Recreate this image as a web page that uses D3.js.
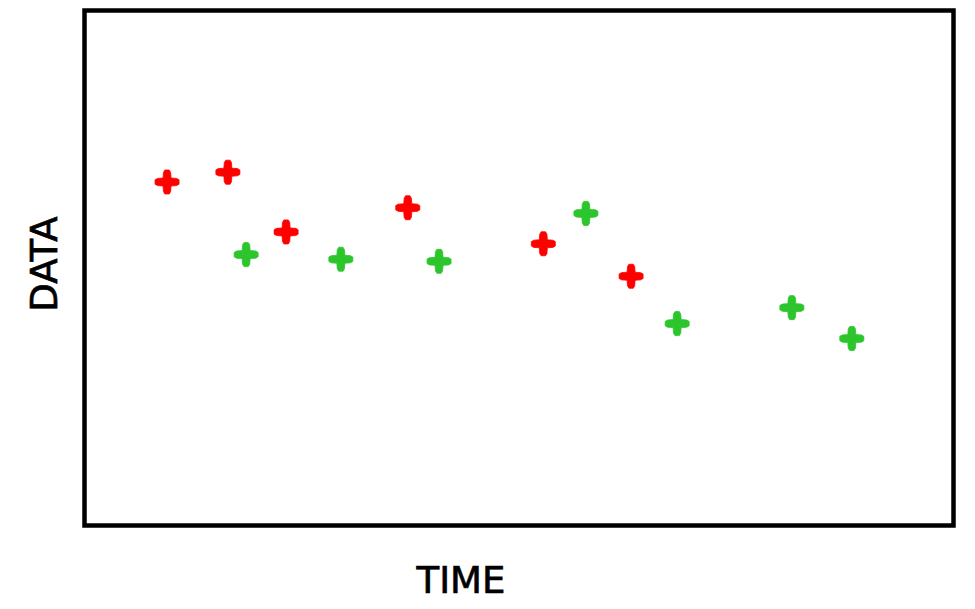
<!DOCTYPE html>
<html>
<head>
<meta charset="utf-8">
<script src="https://cdn.jsdelivr.net/npm/d3@7"></script>
<style>
  body { margin: 0; background: #fff; }
  text { font-family: "DejaVu Sans", sans-serif; }
</style>
</head>
<body>
<div id="chart"></div>
<script>
// values (arbitrary 0-100 units, no ticks shown)
const redTime = [9.5, 16.5, 23.2, 37.2, 52.8, 62.9];
const redData = [66.7, 68.6, 57.0, 61.7, 54.7, 48.4];
const greenTime = [18.6, 29.5, 40.8, 57.7, 68.2, 81.4, 88.3];
const greenData = [52.6, 51.7, 51.3, 60.6, 39.2, 42.3, 36.3];

const width = 975, height = 609;
const margin = {top: 10.5, right: 21.5, bottom: 83.5, left: 84.5};

let svg = d3.select("#chart")
    .append("svg")
    .attr("width", width)
    .attr("height", height);

let x = d3.scaleLinear()
    .domain([0, 100])
    .range([margin.left, width - margin.right]);

let y = d3.scaleLinear()
    .domain([0, 100])
    .range([height - margin.bottom, margin.top]);

// plot frame
svg.append("rect")
    .attr("x", x(0))
    .attr("y", y(100))
    .attr("width", x(100) - x(0))
    .attr("height", y(0) - y(100))
    .attr("fill", "none")
    .attr("stroke", "#000")
    .attr("stroke-width", 4.5);

// plus marker with slightly tapered arm tips
const taperedCross = {
    draw(context, size) {
        let r = Math.sqrt(size) / 2;        // arm length
        let w = r / 3, t = r / 5.5;          // half widths: root, tip
        let arm = [[w, -w], [r * 0.8, -w * 0.9], [r, -t], [r, t], [r * 0.8, w * 0.9], [w, w]];
        let first = true;
        for (let k = 0; k < 4; k++) {
            let c = Math.cos(k * Math.PI / 2), s = Math.sin(k * Math.PI / 2);
            arm.forEach(p => {
                let px = p[0] * c - p[1] * s, py = p[0] * s + p[1] * c;
                if (first) { context.moveTo(px, py); first = false; }
                else context.lineTo(px, py);
            });
        }
        context.closePath();
    }
};

let cross = d3.symbol().type(taperedCross).size(576);

function drawSeries(times, vals, colour) {
    let pts = times.map((t, i) => ({t: t, v: vals[i]}));
    svg.append("g").selectAll("path")
        .data(pts)
        .enter()
        .append("path")
        .attr("d", cross)
        .attr("transform", d => `translate(${x(d.t)}, ${y(d.v)})`)
        .attr("fill", colour)
        .attr("stroke", colour)
        .attr("stroke-width", 0.8)
        .attr("stroke-linejoin", "round");
}

drawSeries(redTime, redData, "#ff0000");
drawSeries(greenTime, greenData, "#2cc62c");

// axis labels
svg.append("text")
    .attr("x", 461)
    .attr("y", 593)
    .style("text-anchor", "middle")
    .style("font-size", "37px")
    .attr("stroke", "#000")
    .attr("stroke-width", 0.7)
    .text("TIME");

svg.append("text")
    .attr("transform", "translate(57, 264) rotate(-90)")
    .style("text-anchor", "middle")
    .style("font-size", "37px")
    .attr("stroke", "#000")
    .attr("stroke-width", 0.7)
    .text("DATA");
</script>
</body>
</html>
